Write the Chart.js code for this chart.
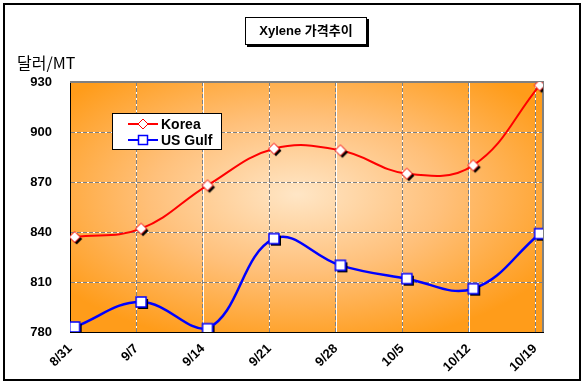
<!DOCTYPE html>
<html>
<head>
<meta charset="utf-8">
<script src="https://cdn.jsdelivr.net/npm/chart.js@4.4.1/dist/chart.umd.min.js"></script>
<style>
  html, body { margin: 0; padding: 0; background: #fff; }
  #wrap { position: relative; width: 583px; height: 385px; font-family: 'Liberation Sans', 'Noto Sans CJK KR', sans-serif; }
  #frame { position: absolute; left: 3px; top: 3px; width: 578px; height: 378px; border: 2px solid #000; box-sizing: border-box; pointer-events: none; }
  #title { position: absolute; left: 245px; top: 17px; width: 122px; height: 28px; box-sizing: border-box; border: 1px solid #000; background: #fff; box-shadow: 2px 2px 0 #000; font-weight: bold; font-size: 13px; line-height: 26px; text-align: center; }
  #unit { position: absolute; left: 17px; top: 50px; font-size: 16px; font-family: 'Noto Sans CJK KR', 'Liberation Sans', sans-serif; }
  #legend { position: absolute; left: 112px; top: 113px; width: 110px; height: 37px; box-sizing: border-box; border: 1px solid #000; background: #fff; font-weight: bold; font-size: 14px; padding-top: 2px; }
  #legend div { height: 16px; line-height: 16px; display: flex; align-items: center; }
  #legend svg { margin-left: 15px; margin-right: 3px; }
  canvas { position: absolute; left: 0; top: 0; }
</style>
</head>
<body>
<div id="wrap">
  <canvas id="xylene" width="583" height="385"></canvas>
  <div id="frame"></div>
  <div id="title">Xylene 가격추이</div>
  <div id="unit">달러/MT</div>
  <div id="legend">
    <div><svg width="30" height="14"><line x1="0" y1="7" x2="30" y2="7" stroke="#f00" stroke-width="2"/><polygon points="15,2 20,7 15,12 10,7" fill="#fff" stroke="#f00" stroke-width="1"/></svg>Korea</div>
    <div><svg width="30" height="14"><line x1="0" y1="7" x2="30" y2="7" stroke="#00f" stroke-width="2"/><rect x="10.5" y="2.5" width="9" height="9" fill="#fff" stroke="#00f" stroke-width="1.5"/></svg>US Gulf</div>
  </div>
</div>
<script>
const dates = ['8/31', '9/7', '9/14', '9/21', '9/28', '10/5', '10/12', '10/19'];
const korea = [837, 842, 868, 890, 889, 875, 880, 928];
const usGulf = [783, 798, 782, 836, 820, 812, 806, 839];
const yTicks = [780, 810, 840, 870, 900, 930];

// markers sit a little right of the category gridline, like the original
const pointShift = 0.07;

function makeMarker(shape, color) {
  const c = document.createElement('canvas');
  c.width = 18;
  c.height = 18;
  const ctx = c.getContext('2d');
  const draw = (cx, cy) => {
    ctx.beginPath();
    if (shape === 'diamond') {
      ctx.moveTo(cx, cy - 5.5);
      ctx.lineTo(cx + 5.5, cy);
      ctx.lineTo(cx, cy + 5.5);
      ctx.lineTo(cx - 5.5, cy);
      ctx.closePath();
    } else {
      ctx.rect(cx - 5, cy - 5, 10, 10);
    }
  };
  draw(11, 11);
  ctx.fillStyle = '#000';
  ctx.fill();
  draw(9, 9);
  ctx.fillStyle = '#fff';
  ctx.fill();
  ctx.lineWidth = shape === 'diamond' ? 1 : 1.5;
  ctx.strokeStyle = color;
  ctx.stroke();
  return c;
}

const toPoints = arr => arr.map((v, i) => ({ x: i + pointShift, y: v }));

const plotBackground = {
  id: 'plotBackground',
  beforeDraw(chart) {
    const { ctx, chartArea: a, scales } = chart;
    const w = a.right - a.left, h = a.bottom - a.top;
    const cx = a.left + w * 0.48, cy = a.top + h * 0.45;
    ctx.save();
    ctx.beginPath();
    ctx.rect(a.left, a.top, w, h);
    ctx.clip();
    ctx.save();
    ctx.translate(cx, cy);
    ctx.scale(1, h / w);
    const g = ctx.createRadialGradient(0, 0, 0, 0, 0, w * 0.62);
    g.addColorStop(0, '#FFE6C6');
    g.addColorStop(0.5, '#FFC07A');
    g.addColorStop(1, '#FF9C1A');
    ctx.fillStyle = g;
    ctx.fillRect(-w, -w, 2 * w, 2 * w);
    ctx.restore();
    // white under the dashed gridlines
    ctx.strokeStyle = '#fff';
    ctx.lineWidth = 1;
    scales.x.ticks.forEach(t => {
      const x = Math.round(scales.x.getPixelForValue(t.value)) + 0.5;
      ctx.beginPath();
      ctx.moveTo(x, a.top);
      ctx.lineTo(x, a.bottom);
      ctx.stroke();
    });
    scales.y.ticks.forEach(t => {
      const y = Math.round(scales.y.getPixelForValue(t.value)) + 0.5;
      ctx.beginPath();
      ctx.moveTo(a.left, y);
      ctx.lineTo(a.right, y);
      ctx.stroke();
    });
    ctx.restore();
  },
  beforeDatasetsDraw(chart) {
    const { ctx, chartArea: a } = chart;
    ctx.save();
    ctx.strokeStyle = '#808080';
    ctx.lineWidth = 2;
    ctx.beginPath();
    ctx.moveTo(a.left, a.top);
    ctx.lineTo(a.right, a.top);
    ctx.lineTo(a.right, a.bottom);
    ctx.stroke();
    ctx.restore();
  }
};

new Chart(document.getElementById('xylene'), {
  type: 'line',
  data: {
    datasets: [
      {
        label: 'Korea',
        data: toPoints(korea),
        borderColor: '#ff0000',
        borderWidth: 2,
        tension: 0.4,
        pointStyle: makeMarker('diamond', '#ff0000'),
        pointRadius: 6
      },
      {
        label: 'US Gulf',
        data: toPoints(usGulf),
        borderColor: '#0000ff',
        borderWidth: 2.5,
        tension: 0.4,
        pointStyle: makeMarker('square', '#0000ff'),
        pointRadius: 6
      }
    ]
  },
  options: {
    responsive: false,
    animation: false,
    layout: { padding: { top: 82, right: 40, left: 0, bottom: 0 } },
    plugins: { legend: { display: false }, tooltip: { enabled: false } },
    scales: {
      x: {
        type: 'linear',
        min: 0,
        max: 7.12,
        afterBuildTicks(scale) {
          scale.ticks = dates.map((d, i) => ({ value: i }));
        },
        afterFit(scale) { scale.height = 53; },
        border: { color: '#000', width: 1, dash: [4, 2] },
        grid: { color: '#808080', lineWidth: 1, drawTicks: false },
        ticks: {
          autoSkip: false,
          minRotation: 45,
          maxRotation: 45,
          padding: 9,
          color: '#000',
          font: { family: 'Liberation Sans', size: 13, weight: 'bold' },
          callback: v => dates[v]
        }
      },
      y: {
        min: 780,
        max: 930,
        afterBuildTicks(scale) {
          scale.ticks = yTicks.map(v => ({ value: v }));
        },
        afterFit(scale) { scale.width = 70; },
        border: { color: '#000', width: 1, dash: [4, 2] },
        grid: { color: '#808080', lineWidth: 1, drawTicks: false },
        ticks: {
          padding: 18,
          color: '#000',
          font: { family: 'Liberation Sans', size: 13, weight: 'bold' }
        }
      }
    }
  },
  plugins: [plotBackground]
});
</script>
</body>
</html>
